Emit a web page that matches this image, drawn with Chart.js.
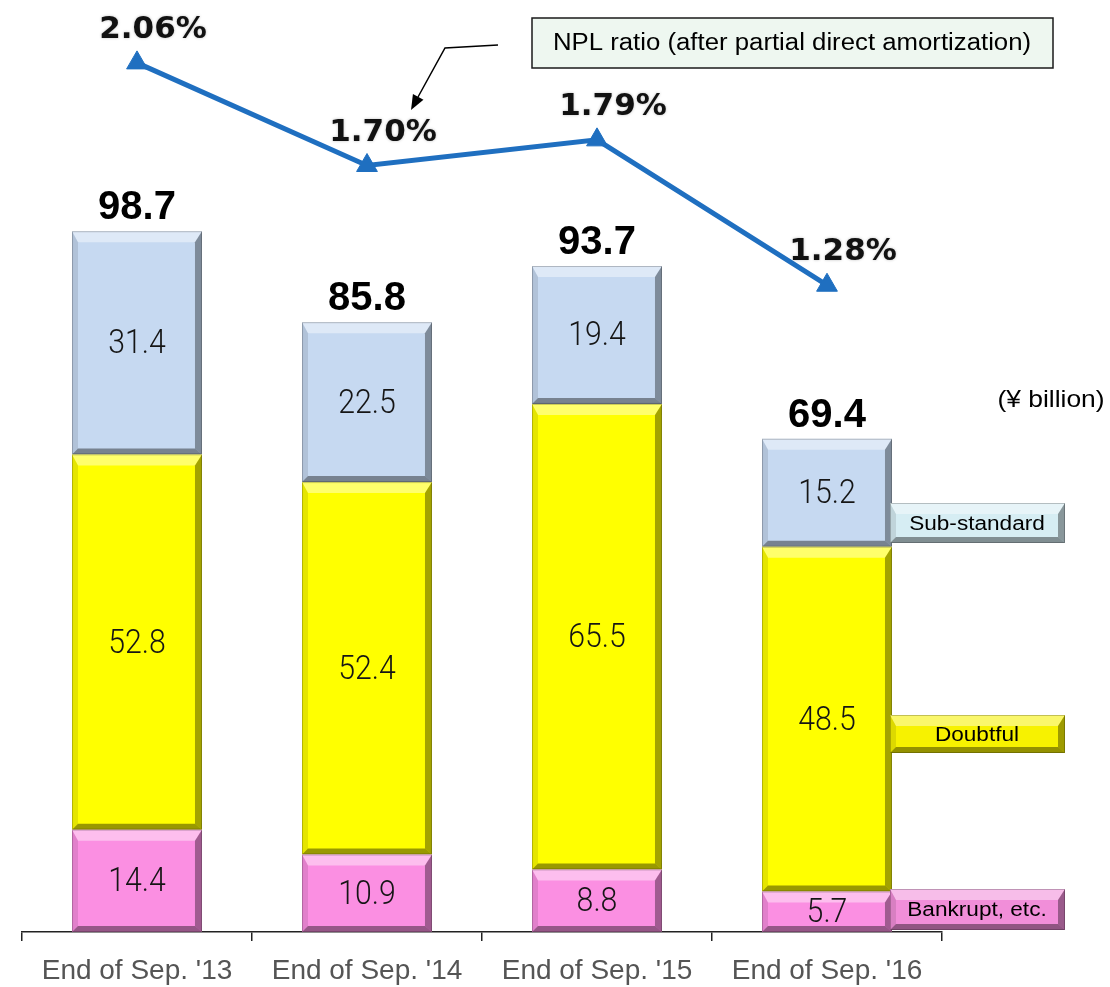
<!DOCTYPE html>
<html>
<head>
<meta charset="utf-8">
<script src="https://cdn.jsdelivr.net/npm/chart.js@4/dist/chart.umd.min.js"></script>
<style>
  html, body { margin: 0; padding: 0; background: #ffffff; }
  canvas { display: block; }
</style>
</head>
<body>
<canvas id="npl" width="1110" height="987"></canvas>
<script>
// Non-performing loans by category (¥ billion) and NPL ratio (%)
const categories = ["End of Sep. '13", "End of Sep. '14", "End of Sep. '15", "End of Sep. '16"];
const bankrupt = [14.4, 10.9, 8.8, 5.7];
const doubtful = [52.8, 52.4, 65.5, 48.5];
const subStandard = [31.4, 22.5, 19.4, 15.2];
const totals = [98.7, 85.8, 93.7, 69.4];
const nplRatio = [2.06, 1.70, 1.79, 1.28];
const seriesNames = ['Bankrupt, etc.', 'Doubtful', 'Sub-standard'];
const unitLabel = '(¥ billion)';
const ratioCaption = 'NPL ratio (after partial direct amortization)';

const COLORS = {
  bankrupt: '#fb8fe2',
  doubtful: '#ffff00',
  subStandard: '#c6d9f1',
  line: '#1f6fc0'
};

// text helper with optional horizontal stretch
function drawText(ctx, s, x, y, font, color, sx = 1, align = 'center', baseline = 'middle') {
  ctx.save();
  ctx.translate(x, y);
  ctx.scale(sx, 1);
  ctx.font = font;
  ctx.fillStyle = color;
  ctx.textAlign = align;
  ctx.textBaseline = baseline;
  ctx.fillText(s, 0, 0);
  ctx.restore();
}

// bevelled-box shading over a flat rectangle
function bevel(ctx, l, t, r, b) {
  const bt = Math.min(11, (b - t) / 3), bl = 6, br = 7, bb = Math.min(6, (b - t) / 4);
  const quad = (pts, fill) => {
    ctx.beginPath();
    ctx.moveTo(pts[0][0], pts[0][1]);
    for (let i = 1; i < pts.length; i++) ctx.lineTo(pts[i][0], pts[i][1]);
    ctx.closePath();
    ctx.fillStyle = fill;
    ctx.fill();
  };
  ctx.save();
  quad([[l, t], [r, t], [r - br, t + bt], [l + bl, t + bt]], 'rgba(255,255,255,0.42)');
  quad([[l, t], [l + bl, t + bt], [l + bl, b - bb], [l, b]], 'rgba(0,0,0,0.10)');
  quad([[r, t], [r, b], [r - br, b - bb], [r - br, t + bt]], 'rgba(0,0,0,0.36)');
  quad([[l, b], [r, b], [r - br, b - bb], [l + bl, b - bb]], 'rgba(0,0,0,0.40)');
  ctx.strokeStyle = 'rgba(0,0,0,0.22)';
  ctx.lineWidth = 1;
  ctx.strokeRect(l + 0.5, t + 0.5, r - l - 1, b - t - 1);
  ctx.restore();
}

const barShading = {
  id: 'barShading',
  afterDatasetDraw(chart, args) {
    const ds = chart.data.datasets[args.index];
    if (ds.type !== 'bar') return;
    const ctx = chart.ctx;
    args.meta.data.forEach(el => {
      const p = el.getProps(['x', 'y', 'base', 'width'], true);
      bevel(ctx, p.x - p.width / 2, Math.min(p.y, p.base), p.x + p.width / 2, Math.max(p.y, p.base));
    });
  }
};

const annotations = {
  id: 'annotations',
  afterDatasetsDraw(chart) {
    const ctx = chart.ctx;
    // segment values
    [0, 1, 2].forEach(di => {
      const meta = chart.getDatasetMeta(di);
      const values = chart.data.datasets[di].data;
      meta.data.forEach((el, i) => {
        const p = el.getProps(['x', 'y', 'base'], true);
        drawText(ctx, values[i].toFixed(1), p.x, (p.y + p.base) / 2 + 2,
          '300 34px Roboto, "Noto Sans", sans-serif', '#151515', 0.89);
      });
    });
    // totals above each stack
    const topMeta = chart.getDatasetMeta(2);
    topMeta.data.forEach((el, i) => {
      const p = el.getProps(['x', 'y'], true);
      drawText(ctx, totals[i].toFixed(1), p.x, p.y - 23,
        'bold 40px "Liberation Sans", Arial, sans-serif', '#000');
    });
    // ratio labels
    const lineMeta = chart.getDatasetMeta(3);
    lineMeta.data.forEach((el, i) => {
      const p = el.getProps(['x', 'y'], true);
      ctx.save();
      ctx.shadowColor = 'rgba(0,0,0,0.25)';
      ctx.shadowBlur = 3;
      drawText(ctx, nplRatio[i].toFixed(2) + '%', p.x + 16, p.y - 33,
        'bold 31px "DejaVu Sans", sans-serif', '#111');
      ctx.restore();
    });

    // category tags beside the last stack
    const tags = [
      { name: seriesNames[2], top: 503, bottom: 543, fill: '#d6edf3' },
      { name: seriesNames[1], top: 715, bottom: 753, fill: '#f7f200' },
      { name: seriesNames[0], top: 889, bottom: 930, fill: '#f18ed9' }
    ];
    tags.forEach(t => {
      ctx.fillStyle = t.fill;
      ctx.fillRect(890, t.top, 175, t.bottom - t.top);
      bevel(ctx, 890, t.top, 1065, t.bottom);
      drawText(ctx, t.name, 977, (t.top + t.bottom) / 2 + 1,
        '20px "Liberation Sans", Arial, sans-serif', '#000', 1.13);
    });

    // unit
    drawText(ctx, unitLabel, 1051, 400, '24px "Liberation Sans", Arial, sans-serif', '#000', 1.1);

    // caption box with pointer to the ratio line
    ctx.save();
    ctx.fillStyle = '#eef7f0';
    ctx.fillRect(532, 18, 521, 50);
    ctx.strokeStyle = '#1a1a1a';
    ctx.lineWidth = 1.5;
    ctx.strokeRect(532, 18, 521, 50);
    ctx.restore();
    drawText(ctx, ratioCaption, 792, 44, '23px "Liberation Sans", Arial, sans-serif', '#000', 1.12);

    ctx.save();
    ctx.strokeStyle = '#000';
    ctx.lineWidth = 1.5;
    ctx.beginPath();
    ctx.moveTo(498, 45);
    ctx.lineTo(445, 48);
    ctx.lineTo(418, 97);
    ctx.stroke();
    const tipX = 411, tipY = 110;
    const dx = tipX - 445, dy = tipY - 48, len = Math.hypot(dx, dy);
    const ux = dx / len, uy = dy / len;
    const hl = 15, hw = 6;
    ctx.beginPath();
    ctx.moveTo(tipX, tipY);
    ctx.lineTo(tipX - ux * hl - uy * hw, tipY - uy * hl + ux * hw);
    ctx.lineTo(tipX - ux * hl + uy * hw, tipY - uy * hl - ux * hw);
    ctx.closePath();
    ctx.fillStyle = '#000';
    ctx.fill();
    ctx.restore();
  }
};

new Chart(document.getElementById('npl'), {
  data: {
    labels: categories,
    datasets: [
      { type: 'bar', label: seriesNames[0], data: bankrupt, backgroundColor: COLORS.bankrupt, stack: 'npl', yAxisID: 'y', order: 1 },
      { type: 'bar', label: seriesNames[1], data: doubtful, backgroundColor: COLORS.doubtful, stack: 'npl', yAxisID: 'y', order: 1 },
      { type: 'bar', label: seriesNames[2], data: subStandard, backgroundColor: COLORS.subStandard, stack: 'npl', yAxisID: 'y', order: 1 },
      {
        type: 'line', label: ratioCaption, data: nplRatio, yAxisID: 'y2', order: 0,
        borderColor: COLORS.line, borderWidth: 5, tension: 0,
        pointStyle: 'triangle', pointRadius: 12, pointBackgroundColor: COLORS.line,
        pointBorderColor: COLORS.line, pointBorderWidth: 1, clip: false
      }
    ]
  },
  options: {
    responsive: false,
    animation: false,
    events: [],
    layout: { padding: { left: 22, right: 168, top: 10, bottom: 0 } },
    datasets: { bar: { barPercentage: 0.565, categoryPercentage: 1.0, borderWidth: 0 } },
    plugins: { legend: { display: false }, tooltip: { enabled: false } },
    scales: {
      x: {
        stacked: true,
        offset: true,
        grid: { offset: true, drawOnChartArea: false, drawTicks: true, tickLength: 9, color: '#222', lineWidth: 1.5 },
        border: { display: true, color: '#222', width: 1.5 },
        ticks: { color: '#555', font: { family: '"Liberation Sans", Arial, sans-serif', size: 28 }, padding: 13, maxRotation: 0, autoSkip: false },
        afterFit(scale) { scale.height = 55; }
      },
      y: { stacked: true, display: false, min: 0, max: 129.3 },
      y2: { display: false, position: 'right', min: -0.989, max: 2.235 }
    }
  },
  plugins: [barShading, annotations]
});
</script>
</body>
</html>
